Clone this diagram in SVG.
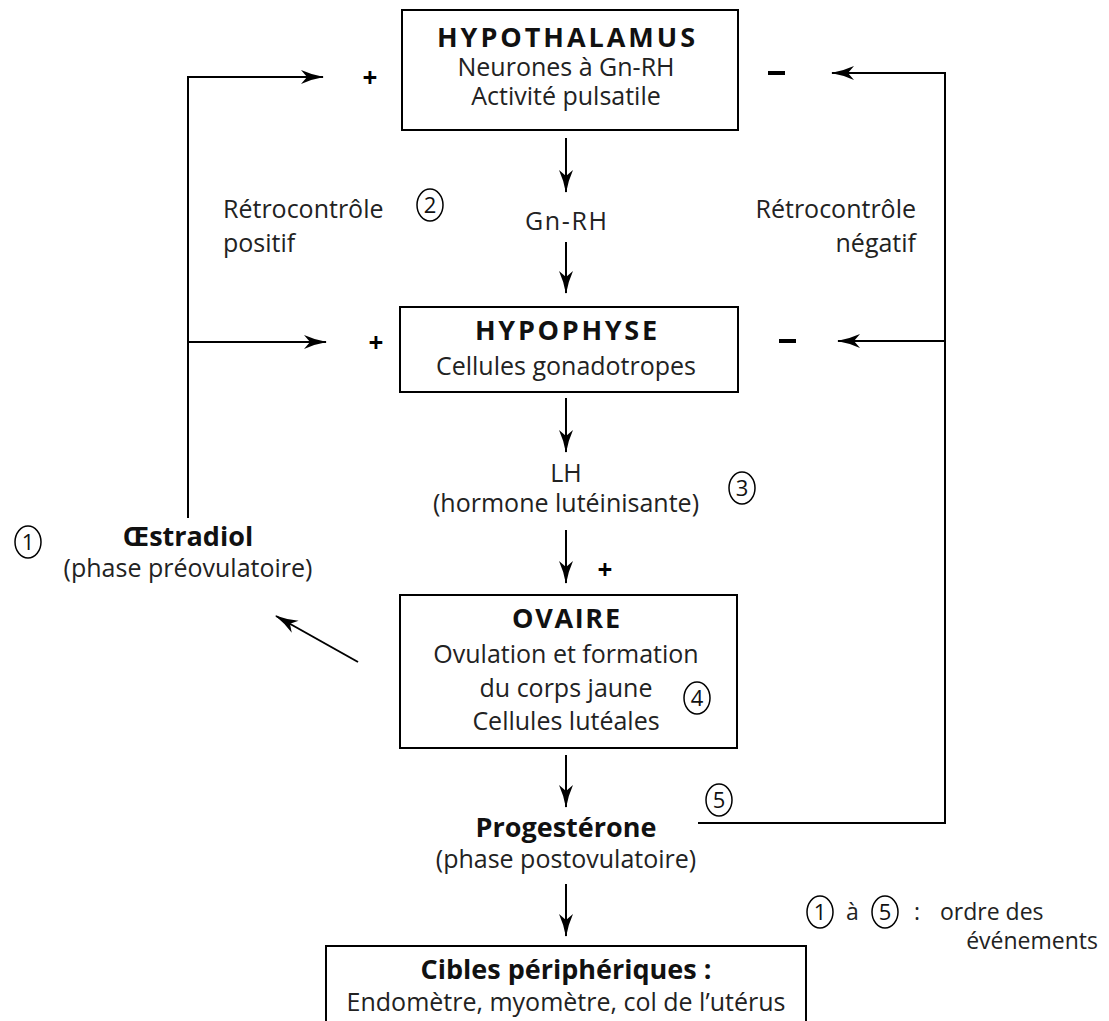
<svg xmlns="http://www.w3.org/2000/svg" width="1109" height="1021" viewBox="0 0 1109 1021">
<style>
.t{font-family:"Open Sans","DejaVu Sans",sans-serif;font-size:25px;fill:#222;}
.b{font-family:"Open Sans","DejaVu Sans",sans-serif;font-size:27px;font-weight:bold;fill:#111;}
.m{text-anchor:middle;}
.e{text-anchor:end;}
.lg{font-family:"Open Sans","DejaVu Sans",sans-serif;font-size:23px;fill:#222;}
.box{fill:#fff;stroke:#000;stroke-width:2;}
.ln{fill:none;stroke:#000;stroke-width:2;}
.ci{fill:none;stroke:#000;stroke-width:1.5;}
.n{font-family:"Open Sans","DejaVu Sans",sans-serif;font-size:22px;fill:#111;text-anchor:middle;}
.s{font-family:"Open Sans","DejaVu Sans",sans-serif;font-size:26px;font-weight:bold;fill:#000;text-anchor:middle;}
</style>
<defs>
<marker id="ah" viewBox="0 0 24 16" refX="23" refY="8" markerWidth="24" markerHeight="16" markerUnits="userSpaceOnUse" orient="auto">
<path d="M24,8 Q12,6 1,1 L7,8 L1,15 Q12,10 24,8 Z" fill="#000"/>
</marker>
</defs>
<rect width="1109" height="1021" fill="#fff"/>

<g id="connectors">
<path class="ln" d="M566,138 V192" marker-end="url(#ah)"/>
<path class="ln" d="M566,242 V293" marker-end="url(#ah)"/>
<path class="ln" d="M566,398 V452" marker-end="url(#ah)"/>
<path class="ln" d="M566,530 V583" marker-end="url(#ah)"/>
<path class="ln" d="M566,755 V807" marker-end="url(#ah)"/>
<path class="ln" d="M566,884 V936" marker-end="url(#ah)"/>
<path class="ln" d="M188,518 V77 H323" marker-end="url(#ah)"/>
<path class="ln" d="M188,342 H326" marker-end="url(#ah)"/>
<path class="ln" d="M698,823 H945 V73 H832" marker-end="url(#ah)"/>
<path class="ln" d="M945,341 H838" marker-end="url(#ah)"/>
<path class="ln" d="M358,662 L276,616" stroke-width="1.5" marker-end="url(#ah)"/>
<text class="s" x="370" y="87">+</text>
<text class="s" x="376" y="352">+</text>
<text class="s" x="605" y="579">+</text>
<rect x="768" y="71" width="17" height="4" fill="#000"/>
<rect x="779" y="339" width="17" height="4" fill="#000"/>
</g>

<g id="hypothalamus">
<rect class="box" x="402" y="10" width="336" height="120"/>
<text class="b m" x="566" y="47" textLength="258">HYPOTHALAMUS</text>
<text class="t m" x="566" y="76">Neurones à Gn-RH</text>
<text class="t m" x="566" y="105">Activité pulsatile</text>
</g>

<g id="gnrh">
<text class="t m" x="566" y="230" textLength="82">Gn-RH</text>
</g>

<g id="retro-positif">
<text class="t" x="223" y="218">Rétrocontrôle</text>
<text class="t" x="223" y="252">positif</text>
<ellipse class="ci" cx="430" cy="205" rx="13" ry="16"/>
<text class="n" x="430" y="213">2</text>
</g>

<g id="retro-negatif">
<text class="t e" x="916" y="218">Rétrocontrôle</text>
<text class="t e" x="916" y="252">négatif</text>
</g>

<g id="hypophyse">
<rect class="box" x="400" y="307" width="338" height="85"/>
<text class="b m" x="566" y="340" textLength="182">HYPOPHYSE</text>
<text class="t m" x="566" y="375">Cellules gonadotropes</text>
</g>

<g id="lh">
<text class="t m" x="566" y="482">LH</text>
<text class="t m" x="566" y="512">(hormone lutéinisante)</text>
<ellipse class="ci" cx="742" cy="488" rx="13" ry="16"/>
<text class="n" x="742" y="496">3</text>
</g>

<g id="oestradiol">
<text class="b m" x="188" y="546">Œstradiol</text>
<text class="t m" x="188" y="577">(phase préovulatoire)</text>
<ellipse class="ci" cx="28" cy="542" rx="13" ry="16"/>
<text class="n" x="28" y="550">1</text>
</g>

<g id="ovaire">
<rect class="box" x="400" y="595" width="337" height="153"/>
<text class="b m" x="566" y="628" textLength="108">OVAIRE</text>
<text class="t m" x="566" y="663">Ovulation et formation</text>
<text class="t m" x="566" y="697">du corps jaune</text>
<text class="t m" x="566" y="730">Cellules lutéales</text>
<ellipse class="ci" cx="697" cy="698" rx="13" ry="16"/>
<text class="n" x="697" y="706">4</text>
</g>

<g id="progesterone">
<text class="b m" x="566" y="837">Progestérone</text>
<text class="t m" x="566" y="868">(phase postovulatoire)</text>
<ellipse class="ci" cx="719" cy="800" rx="13" ry="16"/>
<text class="n" x="719" y="808">5</text>
</g>

<g id="cibles">
<rect class="box" x="326" y="946" width="480" height="90"/>
<text class="b m" x="566" y="979">Cibles périphériques :</text>
<text class="t m" x="566" y="1011">Endomètre, myomètre, col de l’utérus</text>
</g>

<g id="legend">
<ellipse class="ci" cx="820" cy="912" rx="13" ry="16"/>
<text class="n" x="820" y="920">1</text>
<text class="lg" x="846" y="920">à</text>
<ellipse class="ci" cx="885" cy="912" rx="13" ry="16"/>
<text class="n" x="885" y="920">5</text>
<text class="lg" x="914" y="920">:</text>
<text class="lg" x="940" y="920">ordre des</text>
<text class="lg e" x="1098" y="949">événements</text>
</g>
</svg>
